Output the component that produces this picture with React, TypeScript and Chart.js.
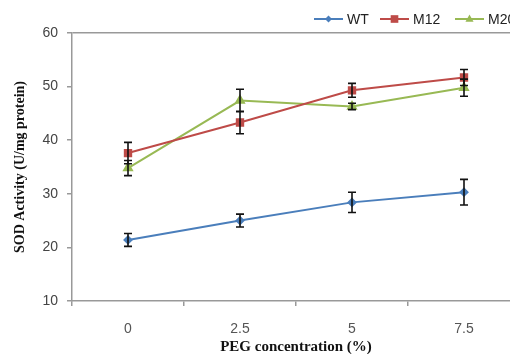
import React, { useEffect, useRef } from "react";
import { Chart, registerables } from "chart.js";

Chart.register(...registerables);

const categories = ["0", "2.5", "5", "7.5"];
const yTicks = [10, 20, 30, 40, 50, 60];
const seriesNames = ["WT", "M12", "M20"];
const wtValues = [21.4, 25.0, 28.4, 30.3];
const wtErrors = [1.2, 1.2, 1.9, 2.4];
const m12Values = [37.6, 43.3, 49.3, 51.7];
const m12Errors = [2.0, 2.1, 1.3, 1.5];
const m20Values = [34.8, 47.4, 46.3, 49.8];
const m20Errors = [1.4, 2.1, 0.6, 1.6];

const colors = ["#4a7ebb", "#be4b48", "#98b954"];
const pointStyles = ["rectRot", "rect", "triangle"];
const pointRadii = [3.5, 4.5, 4.5];

function drawMarker(ctx: CanvasRenderingContext2D, style: string, r: number, x: number, y: number, color: string) {
  ctx.fillStyle = color;
  ctx.beginPath();
  if (style === "rectRot") {
    ctx.moveTo(x, y - r);
    ctx.lineTo(x + r, y);
    ctx.lineTo(x, y + r);
    ctx.lineTo(x - r, y);
  } else if (style === "rect") {
    const s = r * 0.85;
    ctx.rect(x - s, y - s, 2 * s, 2 * s);
  } else {
    ctx.moveTo(x, y - r);
    ctx.lineTo(x + r * 0.9, y + r * 0.6);
    ctx.lineTo(x - r * 0.9, y + r * 0.6);
  }
  ctx.closePath();
  ctx.fill();
}

const errorBarPlugin = {
  id: "errorBars",
  afterDatasetsDraw(chart: any) {
    const ctx = chart.ctx;
    const ys = chart.scales.y;
    ctx.save();
    ctx.strokeStyle = "#111";
    ctx.lineWidth = 1.6;
    chart.data.datasets.forEach((ds: any, i: number) => {
      const meta = chart.getDatasetMeta(i);
      meta.data.forEach((pt: any, j: number) => {
        const v = ds.data[j];
        const e = ds.errors[j];
        const top = ys.getPixelForValue(v + e);
        const bot = ys.getPixelForValue(v - e);
        const x = pt.x;
        ctx.beginPath();
        ctx.moveTo(x, top);
        ctx.lineTo(x, bot);
        ctx.moveTo(x - 4, top);
        ctx.lineTo(x + 4, top);
        ctx.moveTo(x - 4, bot);
        ctx.lineTo(x + 4, bot);
        ctx.stroke();
      });
    });
    ctx.restore();
  },
};

const legendPlugin = {
  id: "customLegend",
  afterDraw(chart: any) {
    const ctx = chart.ctx;
    const starts = [314, 380, 455];
    const y = 19;
    ctx.save();
    chart.data.datasets.forEach((ds: any, i: number) => {
      const x0 = starts[i];
      const x1 = x0 + 29;
      ctx.strokeStyle = ds.borderColor;
      ctx.lineWidth = 2;
      ctx.beginPath();
      ctx.moveTo(x0, y);
      ctx.lineTo(x1, y);
      ctx.stroke();
      drawMarker(ctx, ds.pointStyle, ds.pointRadius, (x0 + x1) / 2, y, ds.borderColor);
      ctx.fillStyle = "#222";
      ctx.font = "14px 'Liberation Sans', Arial, sans-serif";
      ctx.textBaseline = "middle";
      ctx.fillText(ds.label, x1 + 4, y + 1);
    });
    ctx.restore();
  },
};

export default function App() {
  const ref = useRef<HTMLCanvasElement>(null);
  useEffect(() => {
    if (!ref.current) return;
    const series = [wtValues, m12Values, m20Values];
    const errs = [wtErrors, m12Errors, m20Errors];
    const chart = new Chart(ref.current, {
      type: "line",
      data: {
        labels: categories,
        datasets: seriesNames.map((name, i) => ({
          label: name,
          data: series[i],
          errors: errs[i],
          borderColor: colors[i],
          backgroundColor: colors[i],
          pointBackgroundColor: colors[i],
          pointBorderColor: colors[i],
          pointStyle: pointStyles[i],
          pointRadius: pointRadii[i],
          borderWidth: 2,
          tension: 0,
        })) as any,
      },
      options: {
        animation: false,
        responsive: false,
        maintainAspectRatio: false,
        layout: { padding: { top: 33, left: 0, right: 40, bottom: 0 } },
        plugins: { legend: { display: false }, tooltip: { enabled: false } },
        scales: {
          x: {
            type: "category",
            offset: true,
            grid: {
              offset: true,
              drawOnChartArea: false,
              tickLength: 5,
              tickColor: "#999",
              lineWidth: 1.5,
            },
            border: { color: "#999", width: 1.5 },
            ticks: {
              color: "#555",
              font: { family: "'Liberation Sans', Arial, sans-serif", size: 14 },
              padding: 15,
            },
            title: {
              display: true,
              text: "PEG concentration (%)",
              color: "#111",
              font: { family: "'Liberation Serif', 'Times New Roman', serif", size: 15, weight: "bold" },
              padding: { top: 0, bottom: -2 },
            },
            afterFit: (s: any) => {
              s.height = 53;
            },
          },
          y: {
            min: 10,
            max: 60,
            afterBuildTicks: (s: any) => {
              s.ticks = yTicks.map((v) => ({ value: v }));
            },
            grid: {
              color: (c: any) => (c.tick && c.tick.value === 60 ? "#999" : "rgba(0,0,0,0)"),
              tickColor: "#999",
              tickLength: 5,
              lineWidth: 1.5,
            },
            border: { color: "#999", width: 1.5 },
            ticks: {
              color: "#444",
              font: { family: "'Liberation Sans', Arial, sans-serif", size: 14 },
              padding: 9,
            },
            title: {
              display: true,
              text: "SOD Activity (U/mg protein)",
              color: "#111",
              font: { family: "'Liberation Serif', 'Times New Roman', serif", size: 14, weight: "bold" },
              padding: { top: 12, bottom: 0 },
            },
            afterFit: (s: any) => {
              s.width = 72;
            },
          },
        },
      },
      plugins: [errorBarPlugin, legendPlugin],
    } as any);
    return () => chart.destroy();
  }, []);
  return (
    <div style={{ position: "absolute", left: 0, top: 0, width: 510, height: 354, overflow: "hidden", background: "#fff" }}>
      <canvas ref={ref} width={560} height={354} style={{ display: "block" }} />
    </div>
  );
}
